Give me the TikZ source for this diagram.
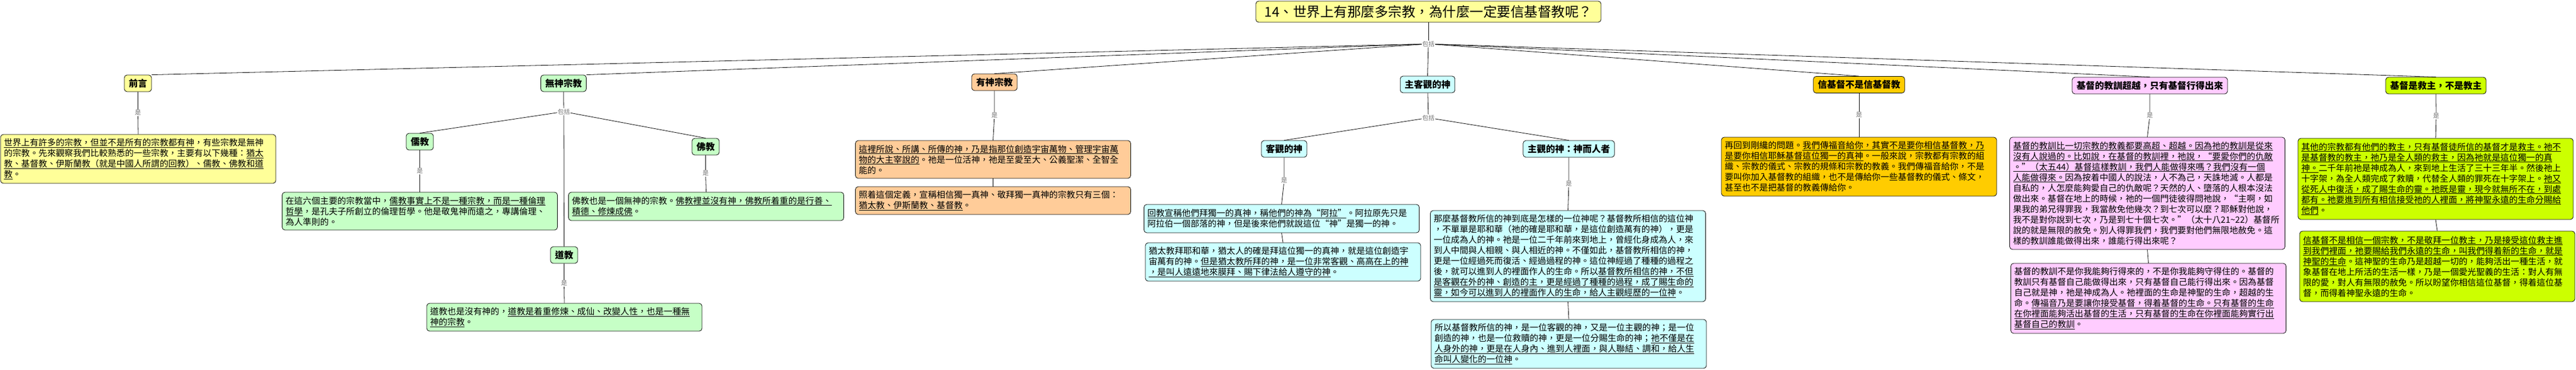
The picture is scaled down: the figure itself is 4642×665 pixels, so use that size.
\documentclass[tikz,border=0pt]{standalone}
\usepackage{fontspec}
\setmainfont{Noto Sans CJK TC}

\definecolor{yelFill}{HTML}{FFFF99}
\definecolor{grnFill}{HTML}{C6FFC6}
\definecolor{orgFill}{HTML}{FFCC99}
\definecolor{cyaFill}{HTML}{CCFFFF}
\definecolor{gldFill}{HTML}{FFCC00}
\definecolor{pnkFill}{HTML}{FFCCFF}
\definecolor{limFill}{HTML}{CCFF00}

\newsavebox{\ulbox}
\newcommand{\uln}[1]{\leavevmode{\sbox{\ulbox}{#1}\rlap{\rule[-2.6pt]{\wd\ulbox}{0.6pt}}\usebox{\ulbox}}}
\newcommand{\notefont}{\fontsize{15.6}{19}\selectfont\lineskiplimit -60pt\relax}

\tikzset{
  box/.style={draw, line width=0.8pt, rounded corners=5pt},
  concept/.style={box, font=\fontsize{16.5}{19}\selectfont\bfseries, inner xsep=8pt, inner ysep=0pt, minimum height=30pt},
  note/.style={box, align=left, text width=484pt, inner xsep=6pt, inner ysep=3pt, font=\notefont},
  linkword/.style={fill=white, text=black!55, inner sep=1pt, font=\fontsize{11}{12}\selectfont},
  link/.style={line width=0.8pt},
}

\begin{document}
\begin{tikzpicture}[x=1pt, y=-1pt]
	\useasboundingbox (0,0) rectangle (4642,665);
	% title
	\node[box, fill=yelFill, font=\fontsize{24.5}{26}\selectfont, minimum width=622pt, minimum height=38pt, inner sep=0pt] (title) at (2574,21) {14、世界上有那麼多宗教，為什麼一定要信基督教呢？};
	\node[linkword] (inc0) at (2574,79) {包括};
	% preface
	\node[concept, fill=yelFill] (qy) at (248.5,150) {前言};
	\node[linkword] (isqy) at (248.5,203) {是};
	\node[note, fill=yelFill, minimum height=88pt] (qyT) at (249,286) {%
		\uln{世界上有許多的宗教，但並不是所有的宗教都有神}，有些宗教是無神\\
		的宗教。先來觀察我們比較熟悉的一些宗教，主要有以下幾種：\uln{猶太}\\
		\uln{教、基督教、伊斯蘭教（就是中國人所謂的回教）、儒教、佛教和道}\\
		\uln{教}。};
	% religions without god
	\node[concept, fill=grnFill] (wu) at (1015.5,150) {無神宗教};
	\node[linkword] (inc1) at (1016,201) {包括};
	\node[concept, fill=grnFill] (rj) at (756.5,255) {儒教};
	\node[linkword] (isrj) at (756.5,308) {是};
	\node[note, fill=grnFill, minimum height=68pt] (rjT) at (756.5,380) {%
		在這六個主要的宗教當中，\uln{儒教事實上不是一種宗教，而是一種倫理}\\
		\uln{哲學}，是孔夫子所創立的倫理哲學。他是敬鬼神而遠之，專講倫理、\\
		為人準則的。};
	\node[concept, fill=grnFill] (fj) at (1271.5,264) {佛教};
	\node[linkword] (isfj) at (1271.5,312) {是};
	\node[note, fill=grnFill, minimum height=51pt] (fjT) at (1272.5,371.5) {%
		佛教也是一個無神的宗教。\uln{佛教裡並沒有神，佛教所着重的是行善、}\\
		\uln{積德、修煉成佛}。};
	\node[concept, fill=grnFill] (dj) at (1016.5,459) {道教};
	\node[linkword] (isdj) at (1016.5,510) {是};
	\node[note, fill=grnFill, minimum height=50pt] (djT) at (1017,571) {%
		道教也是沒有神的，\uln{道教是着重修煉、成仙、改變人性，也是一種無}\\
		\uln{神的宗教}。};
	% religions with god
	\node[concept, fill=orgFill] (you) at (1792,148) {有神宗教};
	\node[linkword] (isyou) at (1792,208) {是};
	\node[note, fill=orgFill, minimum height=68pt] (youT) at (1789.5,287) {%
		\uln{這裡所說、所講、所傳的神，乃是指那位創造宇宙萬物、管理宇宙萬}\\
		\uln{物的大主宰說的}。祂是一位活神，祂是至愛至大、公義聖潔、全智全\\
		能的。};
	\node[note, fill=orgFill, minimum height=50pt] (youU) at (1789.5,361) {%
		照着這個定義，宣稱相信獨一真神、敬拜獨一真神的宗教只有三個：\\
		\uln{猶太教、伊斯蘭教、基督教}。};
	% objective and subjective god
	\node[concept, fill=cyaFill] (zk) at (2572.5,152) {主客觀的神};
	\node[linkword] (inc2) at (2574,212) {包括};
	\node[concept, fill=cyaFill] (kg) at (2314,268) {客觀的神};
	\node[linkword] (iskg) at (2314,325) {是};
	\node[note, fill=cyaFill, minimum height=51pt] (kgT) at (2309.5,393.5) {%
		\uln{回教宣稱他們拜獨一的真神，稱他們的神為“阿拉”}。阿拉原先只是\\
		阿拉伯一個部落的神，但是後來他們就說這位“神”是獨一的神。};
	\node[note, fill=cyaFill, minimum height=69pt] (kgU) at (2312,471.5) {%
		猶太教拜耶和華，猶太人的確是拜這位獨一的真神，就是這位創造宇\\
		宙萬有的神。\uln{但是猶太教所拜的神，是一位非常客觀、高高在上的神}\\
		\uln{，是叫人遠遠地來膜拜、賜下律法給人遵守的神}。};
	\node[concept, fill=cyaFill] (zg) at (2827,268) {主觀的神：神而人者};
	\node[linkword] (iszg) at (2827,331) {是};
	\node[note, fill=cyaFill, minimum height=164pt] (zgT) at (2825.5,461) {%
		那麼基督教所信的神到底是怎樣的一位神呢？基督教所相信的這位神\\
		，不單單是耶和華（祂的確是耶和華，是這位創造萬有的神），更是\\
		一位成為人的神。祂是一位二千年前來到地上，曾經化身成為人，來\\
		到人中間與人相親、與人相近的神。不僅如此，基督教所相信的神，\\
		更是一位經過死而復活、經過過程的神。這位神經過了種種的過程之\\
		後，就可以進到人的裡面作人的生命。所以\uln{基督教所相信的神，不但}\\
		\uln{是客觀在外的神、創造的主，更是經過了種種的過程，成了賜生命的}\\
		\uln{靈，如今可以進到人的裡面作人的生命，給人主觀經歷的一位神}。};
	\node[note, fill=cyaFill, minimum height=88pt] (zgU) at (2827,619) {%
		所以基督教所信的神，是一位客觀的神，又是一位主觀的神；是一位\\
		創造的神，也是一位救贖的神，更是一位分賜生命的神；\uln{祂不僅是在}\\
		\uln{人身外的神，更是在人身內、進到人裡面，與人聯結、調和，給人生}\\
		\uln{命叫人變化的一位神}。};
	% believing christ
	\node[concept, fill=gldFill] (xj) at (3350,152.5) {信基督不是信基督教};
	\node[linkword] (isxj) at (3350,207) {是};
	\node[note, fill=gldFill, minimum height=106pt] (xjT) at (3350,300) {%
		再回到剛纔的問題。\uln{我們傳福音給你，其實不是要你相信基督教，乃}\\
		\uln{是要你相信耶穌基督這位獨一的真神}。一般來說，宗教都有宗教的組\\
		織、宗教的儀式、宗教的規條和宗教的教義。我們傳福音給你，不是\\
		要叫你加入基督教的組織，也不是傳給你一些基督教的儀式、條文，\\
		甚至也不是把基督的教義傳給你。};
	% teaching of christ
	\node[concept, fill=pnkFill] (jx) at (3874,154) {基督的教訓超越，只有基督行得出來};
	\node[linkword] (isjx) at (3874,208) {是};
	\node[note, fill=pnkFill, minimum height=202pt] (jxT) at (3869.5,348) {%
		\uln{基督的教訓比一切宗教的教義都要高超、超越。因為祂的教訓是從來}\\
		\uln{沒有人說過的。比如說，在基督的教訓裡，祂說，“要愛你們的仇敵}\\
		\uln{。”（太五44）基督這樣教訓，我們人能做得來嗎？我們沒有一個}\\
		\uln{人能做得來。}因為按着中國人的說法，人不為己，天誅地滅。人都是\\
		自私的，人怎麼能夠愛自己的仇敵呢？天然的人、墮落的人根本沒法\\
		做出來。基督在地上的時候，祂的一個門徒彼得問祂說，“主啊，如\\
		果我的弟兄得罪我，我當赦免他幾次？到七次可以麼？耶穌對他說，\\
		我不是對你說到七次，乃是到七十個七次。”（太十八21\textasciitilde22）基督所\\
		說的就是無限的赦免。別人得罪我們，我們要對他們無限地赦免。這\\
		樣的教訓誰能做得出來，誰能行得出來呢？};
	\node[note, fill=pnkFill, minimum height=126pt] (jxU) at (3871.5,537) {%
		基督的教訓不是你我能夠行得來的，不是你我能夠守得住的。基督的\\
		教訓只有基督自己能做得出來，只有基督自己能行得出來。因為基督\\
		自己就是神，祂是神成為人。祂裡面的生命是神聖的生命，超越的生\\
		命。\uln{傳福音乃是要讓你接受基督，得着基督的生命。只有基督的生命}\\
		\uln{在你裡面能夠活出基督的生活，只有基督的生命在你裡面能夠實行出}\\
		\uln{基督自己的教訓}。};
	% christ the saviour
	\node[concept, fill=limFill] (jz) at (4389.5,154) {基督是救主，不是教主};
	\node[linkword] (isjz) at (4390,209) {是};
	\node[note, fill=limFill, minimum height=146pt] (jzT) at (4389,322) {%
		\uln{其他的宗教都有他們的教主，只有基督徒所信的基督才是救主。祂不}\\
		\uln{是基督教的教主，祂乃是全人類的救主，因為祂就是這位獨一的真}\\
		\uln{神。}二千年前祂是神成為人，來到地上生活了三十三年半。然後祂上\\
		十字架，為全人類完成了救贖，代替全人類的罪死在十字架上。\uln{祂又}\\
		\uln{從死人中復活，成了賜生命的靈。祂既是靈，現今就無所不在，到處}\\
		\uln{都有。祂要進到所有相信接受祂的人裡面，將神聖永遠的生命分賜給}\\
		\uln{他們}。};
	\node[note, fill=limFill, minimum height=127pt] (jzU) at (4392,479.5) {%
		\uln{信基督不是相信一個宗教，不是敬拜一位教主，乃是接受這位救主進}\\
		\uln{到我們裡面，祂要賜給我們永遠的生命，叫我們得着新的生命，就是}\\
		\uln{神聖的生命}。這神聖的生命乃是超越一切的，能夠活出一種生活，就\\
		象基督在地上所活的生活一樣，乃是一個愛光聖義的生活：對人有無\\
		限的愛，對人有無限的赦免。所以盼望你相信這位基督，得着這位基\\
		督，而得着神聖永遠的生命。};
	% connectors from the title
	\draw[link] (title) -- (inc0);
	\foreach \n/\a in {qy/north east, wu/north east, you/north, zk/north, xj/north, jx/north, jz/north}
		\draw[link] (inc0) -- (\n.\a);
	% connectors under the topics
	\draw[link] (wu) -- (inc1);
	\foreach \n in {rj, fj, dj}
		\draw[link] (inc1) -- (\n.north);
	\draw[link] (zk) -- (inc2);
	\foreach \n in {kg, zg}
		\draw[link] (inc2) -- (\n.north);
	\foreach \n in {qy, rj, fj, dj, you, kg, zg, xj, jx, jz}
		\draw[link] (\n) -- (is\n) (is\n) -- (\n T.north);
	\foreach \n in {you, kg, zg, jx, jz}
		\draw[link] (\n T.south) -- (\n U.north);
\end{tikzpicture}
\end{document}
